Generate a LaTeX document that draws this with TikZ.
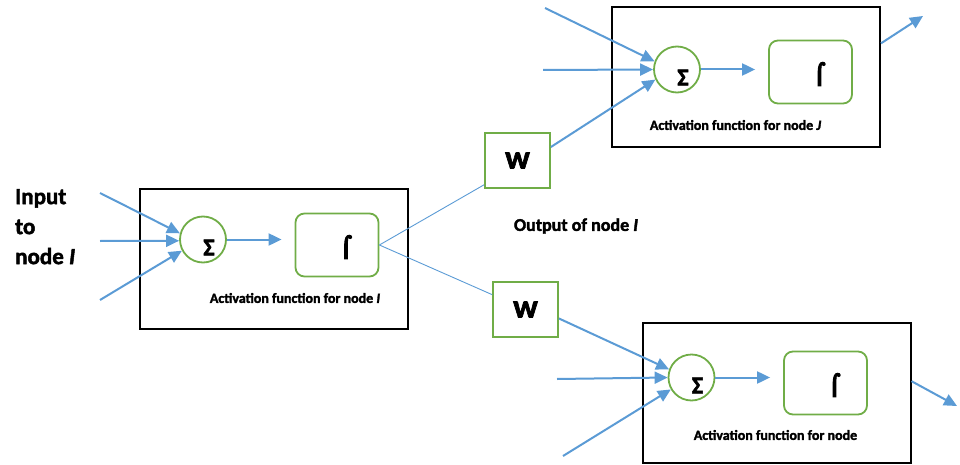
\documentclass[tikz,border=0pt]{standalone}
\usepackage{fontspec}
\setmainfont{Carlito}[BoldFont=Carlito Bold,
                      BoldItalicFont=Carlito Bold Italic,
                      BoldFeatures={FakeBold=2},
                      BoldItalicFeatures={FakeBold=2}]
\newfontfamily\glyphfont{DejaVu Sans Bold}[FakeBold=5]
\usetikzlibrary{arrows.meta}
\definecolor{nnblue}{HTML}{5B9BD5}
\definecolor{nngreen}{HTML}{70AD47}
\tikzstyle{nb}=[shape=rectangle,
                draw=black,
                line width=2pt,
                minimum width=268pt,
                minimum height=140pt,
                inner sep=0pt]
\tikzstyle{sm}=[shape=circle,
                draw=nngreen,
                line width=1.8pt,
                minimum size=46pt,
                inner sep=0pt,
                label={[font=\fontsize{24}{24}\bfseries,xshift=6pt,yshift=-8pt]center:Σ}]
\tikzstyle{af}=[shape=rectangle,
                rounded corners=9pt,
                draw=nngreen,
                line width=1.8pt,
                minimum width=83pt,
                minimum height=63pt,
                label={[font=\fontsize{20}{20}\glyphfont,xshift=9pt,yshift=-2pt]center:⌠}]
\tikzstyle{wt}=[shape=rectangle,
                draw=nngreen,
                fill=white,
                line width=1.8pt,
                minimum width=65pt,
                minimum height=55pt,
                font=\fontsize{33}{33}\bfseries]
\tikzstyle{lb}=[inner sep=0pt,
                font=\fontsize{14}{14}\bfseries]

\begin{document}
\begin{tikzpicture}[x=1pt,y=-1pt,
  ar/.style={color=nnblue,line width=2pt,-{Triangle[length=13pt,width=12pt]}},
  ln/.style={color=nnblue,line width=0.9pt}]
\useasboundingbox (0,0) rectangle (960,465);

% neuron boxes
\node[nb] (nb1) at (274,258.5) {};
\node[nb] (nb2) at (746,77)    {};
\node[nb] (nb3) at (776.5,393) {};

% summing junctions
\node[sm] (sm1) at (203,239.5) {};
\node[sm] (sm2) at (677,69.5)  {};
\node[sm] (sm3) at (691.5,377.5) {};

% activation functions
\node[af] (af1) at (337,245)   {};
\node[af] (af2) at (810.5,72)  {};
\node[af] (af3) at (825.5,383) {};

% weights
\node[wt] (wt1) at (517.5,160.5) {w};
\node[wt] (wt2) at (525.5,309.5) {w};

% texts
\node[lb] (lab1) at (295,298)   {Activation function for node \textit{I}};
\node[lb] (lab2) at (735.5,125) {Activation function for node \textit{J}};
\node[lb] (lab3) at (775.5,435) {Activation function for node};
\node[inner sep=0pt,font=\fontsize{18}{18}\bfseries] (out) at (576,226) {Output of node \textit{I}};
\node[inner sep=0pt,anchor=north west,align=left,font=\fontsize{23}{30}\bfseries]
  (inp) at (15,189) {Input\\to\\node \textit{I}};

% free ends of the inputs and outputs
\coordinate (i1) at (100,193);
\coordinate (i2) at (100,241);
\coordinate (i3) at (100,300);
\coordinate (j1) at (545,8);
\coordinate (j2) at (543,70);
\coordinate (k2) at (557,379);
\coordinate (k3) at (563,456);
\coordinate (o2) at (923,16);
\coordinate (o3) at (957,406);

% inputs
\path[ar] (i1) edge (sm1.165)
          (i2) edge (sm1.183)
          (i3) edge (sm1.208)
          (j1) edge (sm2.160)
          (j2) edge (sm2.180)
          (wt1.22) edge (sm2.205)
          (wt2.-15) edge (sm3.160)
          (k2) edge (sm3.180)
          (k3) edge (sm3.210);

% sum to activation
\path[ar,shorten >=13pt] (sm1.east) edge (sm1.east -| af1.west)
                         (sm2.east) edge (sm2.east -| af2.west)
                         (sm3.east) edge (sm3.east -| af3.west);

% output of node I to the weights
\path[ln] (af1.east) edge (wt1.216)
          (af1.east) edge (wt2.156);

% outputs
\path[ar] (nb2.14) edge (o2)
          (nb3.5)  edge (o3);

\end{tikzpicture}
\end{document}
